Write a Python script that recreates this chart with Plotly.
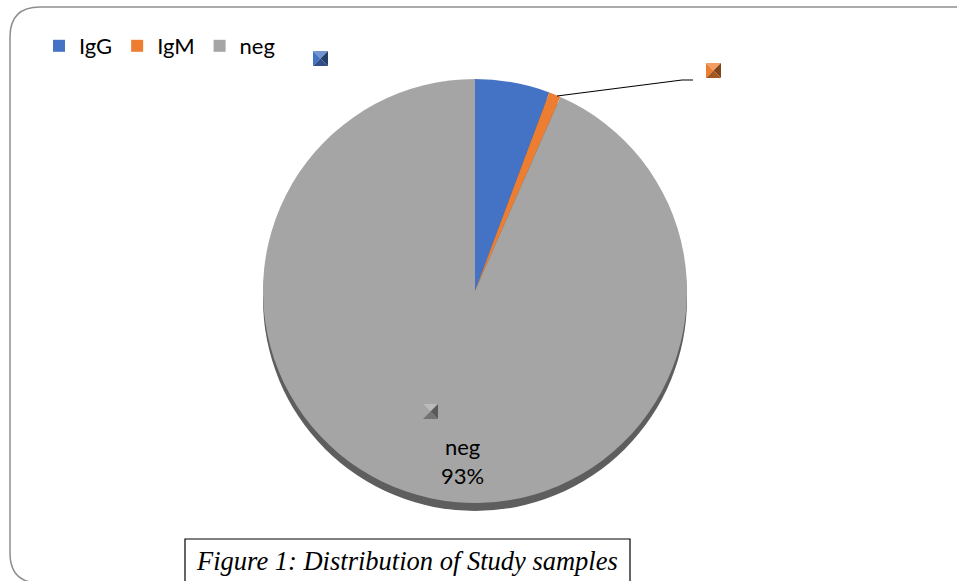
import plotly.graph_objects as go

# ---- data ----
labels = ["IgG", "IgM", "neg"]
values = [5.7, 0.9, 93.4]
colors = ["#4472C4", "#ED7D31", "#A5A5A5"]
caption = "Figure 1: Distribution of Study samples"

W, H = 957, 581

def px(x):
    return x / W

def py(y):
    return 1 - y / H

# pie geometry (pixels)
cx, cy, r = 475, 291, 212
shadow_dy = 8

fig = go.Figure()

# shadow / 3D edge underneath
fig.add_trace(go.Pie(
    values=[1], labels=["_shadow"], marker=dict(colors=["#5E5E5E"], line=dict(width=0)),
    textinfo="none", hoverinfo="skip", showlegend=False, sort=False,
    domain=dict(x=[px(cx - r), px(cx + r)], y=[py(cy + shadow_dy + r), py(cy + shadow_dy - r)]),
))

fig.add_trace(go.Pie(
    labels=labels, values=values, sort=False, direction="clockwise", rotation=0,
    marker=dict(colors=colors, line=dict(width=0)),
    textinfo="none", hoverinfo="label+percent",
    domain=dict(x=[px(cx - r), px(cx + r)], y=[py(cy + r), py(cy - r)]),
))

shapes = []

# rounded outer border (right edge runs off the canvas)
x0, y0, x1, y1, rc = 10, 7, 985, 583, 30
path = (f"M {x0+rc},{y0} L {x1-rc},{y0} Q {x1},{y0} {x1},{y0+rc} "
        f"L {x1},{y1-rc} Q {x1},{y1} {x1-rc},{y1} L {x0+rc},{y1} "
        f"Q {x0},{y1} {x0},{y1-rc} L {x0},{y0+rc} Q {x0},{y0} {x0+rc},{y0} Z")
shapes.append(dict(type="path", xref="x", yref="y", path=path,
                   line=dict(color="#8E8E8E", width=1.5), fillcolor="rgba(0,0,0,0)"))

def shade(hexc, f):
    h = hexc.lstrip("#")
    rgb = [int(h[i:i+2], 16) for i in (0, 2, 4)]
    if f < 1:
        rgb = [int(c * f) for c in rgb]
    else:
        rgb = [int(c + (255 - c) * (f - 1)) for c in rgb]
    return "rgb(%d,%d,%d)" % tuple(rgb)

def bevel_key(xa, ya, s, col):
    xb, yb = xa + s, ya + s
    mx, my = xa + s / 2, ya + s / 2
    tris = [
        (f"M {xa},{ya} L {xb},{ya} L {mx},{my} Z", shade(col, 1.25)),
        (f"M {xa},{ya} L {mx},{my} L {xa},{yb} Z", shade(col, 1.0)),
        (f"M {xb},{ya} L {xb},{yb} L {mx},{my} Z", shade(col, 0.55)),
        (f"M {xa},{yb} L {mx},{my} L {xb},{yb} Z", shade(col, 0.7)),
    ]
    for p, c in tris:
        shapes.append(dict(type="path", xref="x", yref="y", path=p,
                           fillcolor=c, line=dict(width=0)))

# data-label keys
bevel_key(313, 51, 15, colors[0])
bevel_key(706, 63, 15, colors[1])
bevel_key(423, 404, 15, colors[2])

# leader line for IgM
shapes.append(dict(type="path", xref="x", yref="y",
                   path="M 557,96 L 682,80 L 693,80",
                   line=dict(color="#000000", width=1.2)))

# caption box
shapes.append(dict(type="rect", xref="x", yref="y", x0=185, y0=539, x1=630, y1=590,
                   line=dict(color="#000000", width=1.2), fillcolor="white"))

pct = values[2] / sum(values) * 100
annotations = [
    dict(xref="x", yref="y", x=462, y=461, text=f"{labels[2]}<br>{round(pct)}%",
         showarrow=False, font=dict(family="Lato, Carlito, sans-serif", size=22, color="#000000"),
         align="center"),
    dict(xref="x", yref="y", x=407, y=561, text=f"<i>{caption}</i>", showarrow=False,
         font=dict(family="Liberation Serif, serif", size=26.5, color="#000000")),
]

fig.update_layout(
    width=W, height=H,
    margin=dict(l=0, r=0, t=0, b=0),
    paper_bgcolor="white", plot_bgcolor="rgba(0,0,0,0)",
    xaxis=dict(range=[0, W], visible=False, fixedrange=True),
    yaxis=dict(range=[H, 0], visible=False, fixedrange=True),
    shapes=shapes,
    annotations=annotations,
    showlegend=True,
    legend=dict(orientation="h", x=px(39), y=py(25), xanchor="left", yanchor="top",
                font=dict(family="Lato, Carlito, sans-serif", size=22, color="#000000"),
                itemwidth=30, tracegroupgap=0, bgcolor="rgba(0,0,0,0)"),
)

fig.write_html("out.html", config={"displayModeBar": False},
               post_script="document.body.style.margin='0px';document.body.style.padding='0px';")
